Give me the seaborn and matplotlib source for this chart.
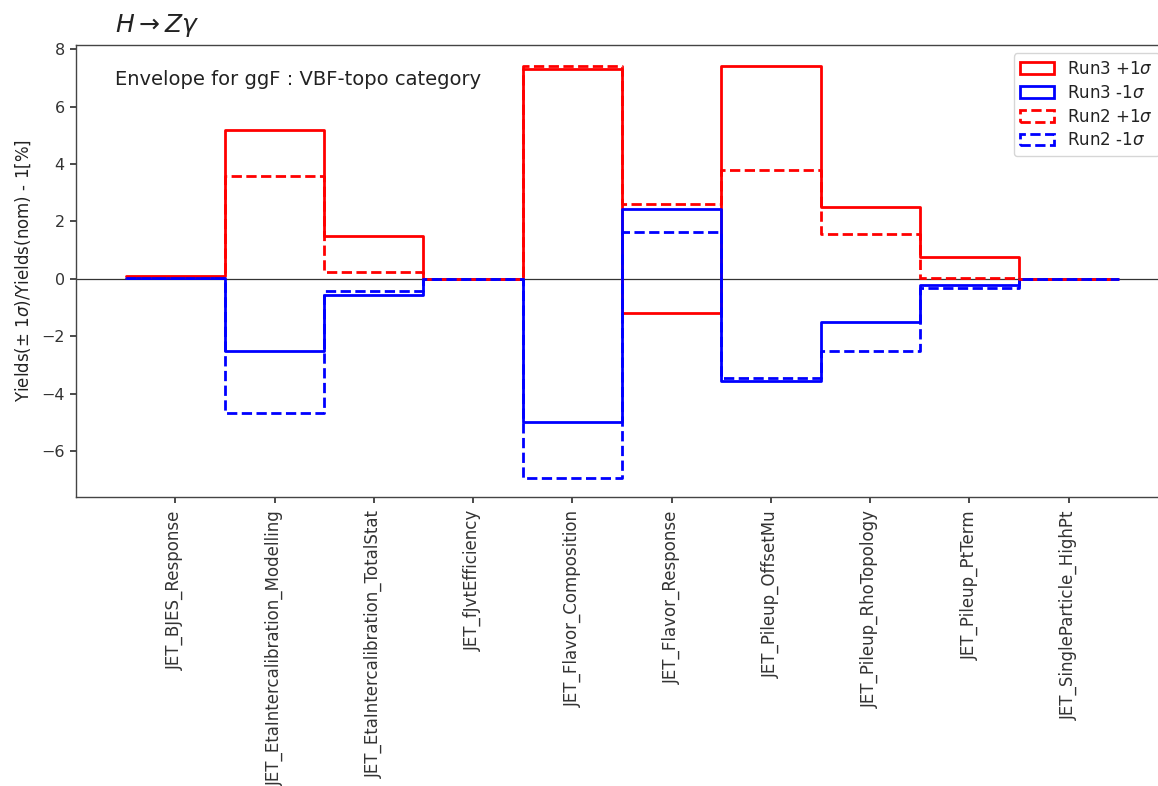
import numpy as np
import pandas as pd
import matplotlib
matplotlib.use("Agg")
import matplotlib.pyplot as plt
from matplotlib.patches import Patch
import seaborn as sns

# Jet systematic nuisance parameters (one bin each)
systematics = [
    "JET_BJES_Response",
    "JET_EtaIntercalibration_Modelling",
    "JET_EtaIntercalibration_TotalStat",
    "JET_fJvtEfficiency",
    "JET_Flavor_Composition",
    "JET_Flavor_Response",
    "JET_Pileup_OffsetMu",
    "JET_Pileup_RhoTopology",
    "JET_Pileup_PtTerm",
    "JET_SingleParticle_HighPt",
]

# Relative yield variation, Yields(+-1 sigma)/Yields(nom) - 1, in percent
run3_up   = [0.10, 5.20, 1.50, 0.00, 7.30, -1.20, 7.40, 2.50, 0.75, 0.00]
run3_down = [0.03, -2.50, -0.55, 0.00, -5.00, 2.45, -3.55, -1.50, -0.23, 0.00]
run2_up   = [0.08, 3.60, 0.25, 0.00, 7.40, 2.60, 3.80, 1.55, 0.02, 0.00]
run2_down = [0.03, -4.68, -0.43, 0.00, -6.93, 1.62, -3.47, -2.52, -0.32, 0.00]

series_labels = ["Run3 +1$\\sigma$", "Run3 -1$\\sigma$", "Run2 +1$\\sigma$", "Run2 -1$\\sigma$"]
series_values = [run3_up, run3_down, run2_up, run2_down]
series_colors = ["red", "blue", "red", "blue"]
series_styles = ["-", "-", "--", "--"]

sns.set_theme(style="ticks", rc={
    "axes.edgecolor": "#444444",
    "axes.linewidth": 1.0,
    "xtick.major.size": 4.5,
    "ytick.major.size": 4.5,
    "xtick.color": "#333333",
    "ytick.color": "#333333",
    "text.color": "#222222",
    "axes.labelcolor": "#222222",
})
plt.rcParams["font.family"] = ["DejaVu Sans"]

fig = plt.figure(figsize=(11.58, 7.86), dpi=100)
ax = fig.add_axes([0.0656, 0.3677, 0.943, 0.5751])

idx = np.arange(len(systematics))
for vals, lab, col, ls in zip(series_values, series_labels, series_colors, series_styles):
    df = pd.DataFrame({"bin": idx, "w": vals})
    sns.histplot(data=df, x="bin", weights="w", binwidth=1, binrange=(-0.5, len(systematics) - 0.5),
                 element="step", fill=False, color=col, linestyle=ls, linewidth=2.0, ax=ax)

ax.axhline(0, color="black", linewidth=0.9, alpha=0.8, zorder=0)

ax.set_xlim(-1.0, 10.0)
ax.set_ylim(-7.6, 8.15)
ax.set_yticks([-6, -4, -2, 0, 2, 4, 6, 8])
ax.set_xticks(idx)
ax.set_xticklabels(systematics, rotation=90, fontsize=12)
ax.tick_params(axis="x", pad=5)
ax.tick_params(axis="y", labelsize=11.5)
ax.set_xlabel("")
ax.set_ylabel("Yields($\\pm$ 1$\\sigma$)/Yields(nom) - 1[%]", fontsize=12, labelpad=6)

ax.text(0.0357, 1.029, "$H \\rightarrow Z\\gamma$", transform=ax.transAxes,
        fontsize=18, va="baseline", ha="left")
ax.text(0.0357, 0.9115, "Envelope for ggF : VBF-topo category", transform=ax.transAxes,
        fontsize=14, va="baseline", ha="left")

handles = [Patch(facecolor="none", edgecolor=c, linestyle=s, linewidth=2.0)
           for c, s in zip(series_colors, series_styles)]
ax.legend(handles, series_labels, loc="upper right", fontsize=12, frameon=True,
          labelspacing=0.35)

fig.savefig("out.png", dpi=100)
